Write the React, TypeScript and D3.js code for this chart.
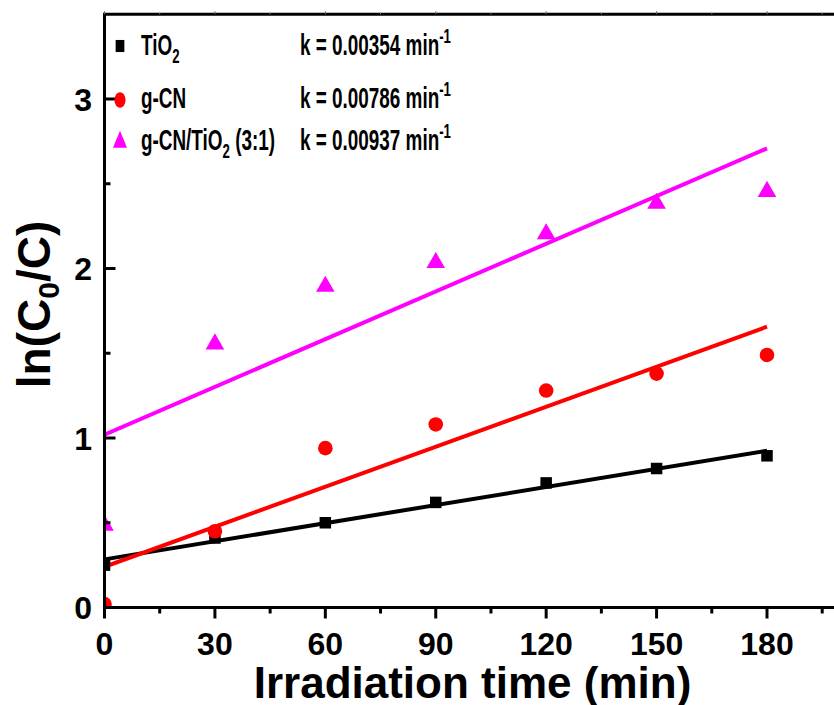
import React from "react";
import * as d3 from "d3";

const times = [0, 30, 60, 90, 120, 150, 180];
const tio2 = [0.25, 0.41, 0.5, 0.62, 0.735, 0.82, 0.895];
const gcn = [0.02, 0.45, 0.94, 1.08, 1.28, 1.38, 1.49];
const composite = [0.49, 1.56, 1.9, 2.04, 2.21, 2.39, 2.46];
const kLabels = ["0.00354", "0.00786", "0.00937"];
const xTicks = [0, 30, 60, 90, 120, 150, 180];
const xMinor = [15, 45, 75, 105, 135, 165, 195];
const yTicks = [0, 1, 2, 3];
const yMinor = [0.5, 1.5, 2.5];

const FONT = "'Liberation Sans', Arial, Helvetica, sans-serif";

function fit(xs: number[], ys: number[]) {
  const mx = d3.mean(xs) as number;
  const my = d3.mean(ys) as number;
  const sxy = d3.sum(xs.map((x, i) => (x - mx) * (ys[i] - my)));
  const sxx = d3.sum(xs.map((x) => (x - mx) * (x - mx)));
  const b = sxy / sxx;
  return { a: my - b * mx, b };
}

export default function App() {
  const left = 104.5;
  const bottom = 607.5;
  const x = d3.scaleLinear().domain([0, 180]).range([left, 767]);
  const y = d3.scaleLinear().domain([0, 3]).range([bottom, 99]);
  const xMax = 200;
  const yMax = 3.5;
  const top = y(yMax);
  const right = x(xMax);

  const series = [
    { name: "TiO2", data: tio2, color: "#000000", shape: "square" },
    { name: "g-CN", data: gcn, color: "#FF0000", shape: "circle" },
    { name: "comp", data: composite, color: "#FF00FF", shape: "triangle" },
  ];

  const line = d3
    .line<number>()
    .x((d) => x(d))
    .y((d) => d);

  const marker = (shape: string, cx: number, cy: number, color: string, s = 1, key?: any) => {
    if (shape === "square") {
      const w = 11.5 * s;
      return <rect key={key} x={cx - w / 2} y={cy - w / 2} width={w} height={w} fill={color} />;
    }
    if (shape === "circle") {
      return <circle key={key} cx={cx} cy={cy} r={7.3 * s} fill={color} />;
    }
    const sym = d3.symbol().type(d3.symbolTriangle).size(150 * s * s)();
    return <path key={key} d={sym as string} transform={`translate(${cx},${cy + 1})`} fill={color} />;
  };

  const legendRows = [
    { y: 55, my: 46 },
    { y: 108, my: 100 },
    { y: 150, my: 141 },
  ];

  return (
    <svg
      width={834}
      height={705}
      style={{ position: "absolute", left: 0, top: 0, background: "#fff" }}
      fontFamily={FONT}
    >
      <defs>
        <clipPath id="plot">
          <rect x={left} y={top} width={right - left} height={bottom - top} />
        </clipPath>
      </defs>
      <rect x={0} y={0} width={834} height={705} fill="#fff" />

      {/* fit lines */}
      <g clipPath="url(#plot)">
        {series.map((s) => {
          const f = fit(times, s.data);
          const pts = [0, 180];
          const d = d3
            .line<number>()
            .x((t) => x(t))
            .y((t) => y(f.a + f.b * t))(pts);
          return <path key={s.name} d={d as string} stroke={s.color} strokeWidth={4} fill="none" />;
        })}
        {series.map((s) =>
          s.data.map((v, i) => marker(s.shape, x(times[i]), y(v), s.color, 1, s.name + i))
        )}
      </g>

      {/* axes */}
      <line x1={left} x2={left} y1={top} y2={bottom + 1.5} stroke="#000" strokeWidth={3} />
      <line x1={left - 1.5} x2={right} y1={bottom} y2={bottom} stroke="#000" strokeWidth={3} />
      <line x1={left - 1.5} x2={right} y1={top} y2={top} stroke="#000" strokeWidth={3} />

      {xTicks.map((t) => (
        <g key={"xt" + t}>
          <line x1={x(t)} x2={x(t)} y1={bottom} y2={bottom + 11} stroke="#000" strokeWidth={3} />
          <line x1={x(t)} x2={x(t)} y1={top} y2={top - 3} stroke="#666" strokeWidth={1} />
          <text x={x(t)} y={655} textAnchor="middle" fontSize={32} fontWeight="bold">
            {t}
          </text>
        </g>
      ))}
      {xMinor.map((t) => (
        <g key={"xm" + t}>
          <line x1={x(t)} x2={x(t)} y1={bottom} y2={bottom + 6} stroke="#000" strokeWidth={3} />
          <line x1={x(t)} x2={x(t)} y1={top} y2={top - 2} stroke="#888" strokeWidth={1} />
        </g>
      ))}
      {yTicks.map((t) => (
        <g key={"yt" + t}>
          <line x1={left} x2={left + 11} y1={y(t)} y2={y(t)} stroke="#000" strokeWidth={3} />
          <text x={92} y={y(t) + 11.5} textAnchor="end" fontSize={32} fontWeight="bold">
            {t}
          </text>
        </g>
      ))}
      {yMinor.map((t) => (
        <line key={"ym" + t} x1={left} x2={left + 6} y1={y(t)} y2={y(t)} stroke="#000" strokeWidth={3} />
      ))}

      {/* axis titles */}
      <text x={(252 + 693) / 2} y={698} textAnchor="middle" fontSize={44} fontWeight="bold">
        Irradiation time (min)
      </text>
      <text
        transform={`translate(50,${(217 + 392) / 2}) rotate(-90)`}
        textAnchor="middle"
        fontSize={46}
        fontWeight="bold"
      >
        ln(C<tspan dy={9} fontSize={30}>0</tspan>
        <tspan dy={-9}>/C)</tspan>
      </text>

      {/* legend */}
      {series.map((s, i) => (
        <g key={"lg" + i}>
          <g transform={`translate(120,${legendRows[i].my}) scale(0.72,1)`}>
            {marker(s.shape, 0, 0, s.color, 1.05)}
          </g>
          <g transform={`translate(141,${legendRows[i].y}) scale(0.63,1)`}>
            <text fontSize={30} fontWeight="bold">
              {i === 0 && (
                <>
                  TiO<tspan dy={8} fontSize={21}>2</tspan>
                </>
              )}
              {i === 1 && <>g-CN</>}
              {i === 2 && (
                <>
                  g-CN/TiO<tspan dy={8} fontSize={21}>2</tspan>
                  <tspan dy={-8}> (3:1)</tspan>
                </>
              )}
            </text>
          </g>
          <g transform={`translate(300,${legendRows[i].y}) scale(0.63,1)`}>
            <text fontSize={30} fontWeight="bold">
              k = {kLabels[i]} min<tspan dy={-12} fontSize={21}>-1</tspan>
            </text>
          </g>
        </g>
      ))}
    </svg>
  );
}
